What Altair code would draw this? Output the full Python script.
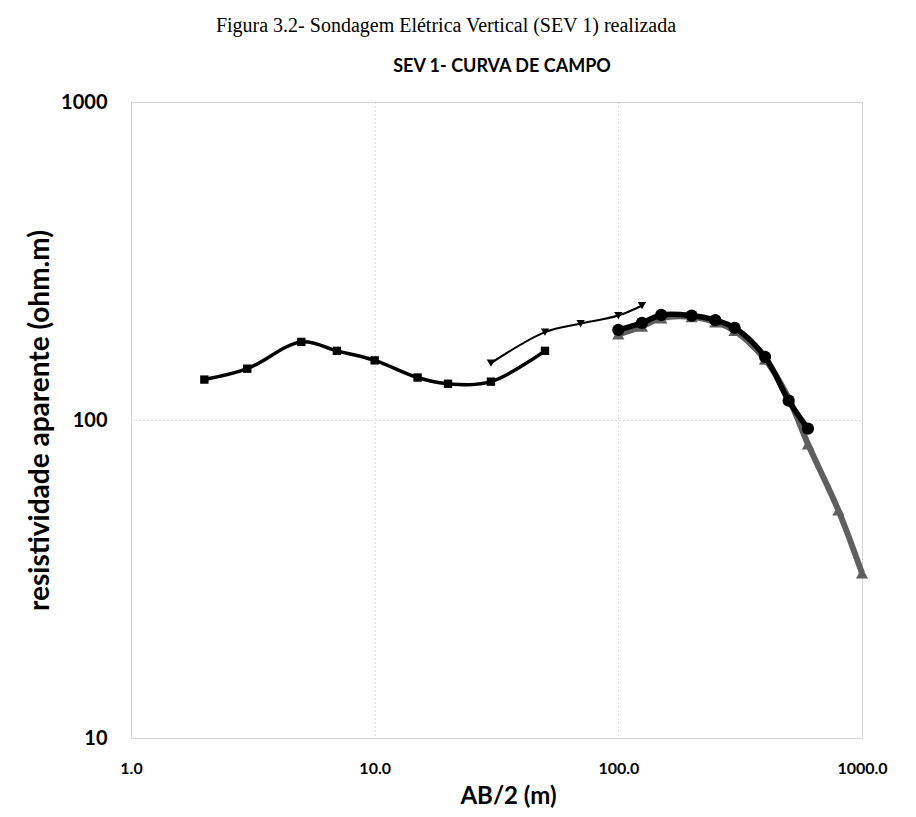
import altair as alt
import pandas as pd

# --- data ---
sq_x = [2, 3, 5, 7, 10, 15, 20, 30, 50]
sq_y = [134, 145, 176, 165, 154, 136, 130, 132, 165]

inv_x = [30, 50, 70, 100, 125]
inv_y = [151, 189, 201, 213, 229]

circ_x = [100, 125, 150, 200, 250, 300, 400, 500, 600]
circ_y = [192, 202, 214, 213, 206, 195, 158, 115, 94]

tri_x = [100, 125, 150, 200, 250, 300, 400, 500, 600, 800, 1000]
tri_y = [186, 197, 209, 211, 203, 191, 155, 117, 84, 52, 33]

x_ticks = [1, 10, 100, 1000]
y_ticks = [10, 100, 1000]

caption = "Figura 3.2- Sondagem Elétrica Vertical (SEV 1) realizada"
title = "SEV 1- CURVA DE CAMPO"

FONT = "Lato"
W, H = 731, 636

x_scale = alt.Scale(type="log", domain=[1, 1000])
y_scale = alt.Scale(type="log", domain=[10, 1000])

x_axis = alt.Axis(values=x_ticks, format=".1f", title="AB/2 (m)",
                  labelFont=FONT, labelFontWeight="bold", labelFontSize=16,
                  labelColor="black", labelPadding=22, labelFlush=False,
                  titleFont=FONT, titleFontWeight="bold", titleFontSize=24,
                  titleColor="black", titlePadding=8, titleX=377,
                  domain=False, ticks=False,
                  grid=True, gridColor="#bdbdbd", gridDash=[1, 3], gridWidth=1)
y_axis = alt.Axis(values=y_ticks, format="d",
                  title="resistividade aparente (ohm.m)",
                  labelFont=FONT, labelFontWeight="bold", labelFontSize=20,
                  labelColor="black", labelPadding=24,
                  titleFont=FONT, titleFontWeight="bold", titleFontSize=28,
                  titleColor="black", titlePadding=6,
                  domain=False, ticks=False,
                  grid=True, gridColor="#bdbdbd", gridDash=[1, 3], gridWidth=1)


def series_layers(xs, ys, color, width, shape, size, axes=False):
    d = pd.DataFrame({"ab": xs, "rho": ys})
    b = alt.Chart(d)
    if axes:
        xe = alt.X("ab:Q", scale=x_scale, axis=x_axis)
        ye = alt.Y("rho:Q", scale=y_scale, axis=y_axis)
    else:
        xe = alt.X("ab:Q", scale=x_scale)
        ye = alt.Y("rho:Q", scale=y_scale)
    ln = b.mark_line(interpolate="catmull-rom", color=color,
                     strokeWidth=width).encode(x=xe, y=ye)
    pt = b.mark_point(filled=True, opacity=1, color=color, shape=shape,
                      size=size).encode(x="ab:Q", y="rho:Q")
    return [ln, pt]


layers = []
layers += series_layers(sq_x, sq_y, "black", 3.5, "square", 70, axes=True)
layers += series_layers(inv_x, inv_y, "black", 2, "triangle-down", 70)
layers += series_layers(tri_x, tri_y, "#5f5f5f", 6, "triangle-up", 150)
layers += series_layers(circ_x, circ_y, "black", 5.5, "circle", 150)

cap = alt.Chart(pd.DataFrame({"t": [caption]})).mark_text(
    font="Liberation Serif", fontSize=20, color="black", align="center",
    baseline="alphabetic"
).encode(text="t:N", x=alt.value(315), y=alt.value(-70))

ttl = alt.Chart(pd.DataFrame({"t": [title]})).mark_text(
    font=FONT, fontSize=18, fontWeight="bold", color="black", align="center",
    baseline="middle"
).encode(text="t:N", x=alt.value(371), y=alt.value(-35))

chart = alt.layer(*layers, cap, ttl).properties(
    width=W, height=H,
    autosize=alt.AutoSizeParams(type="none"),
    padding={"left": 123, "top": 94, "right": 46, "bottom": 71},
).configure_view(stroke=None).configure(background="white")

chart.save("out.html", embed_options={"renderer": "svg", "actions": False})
